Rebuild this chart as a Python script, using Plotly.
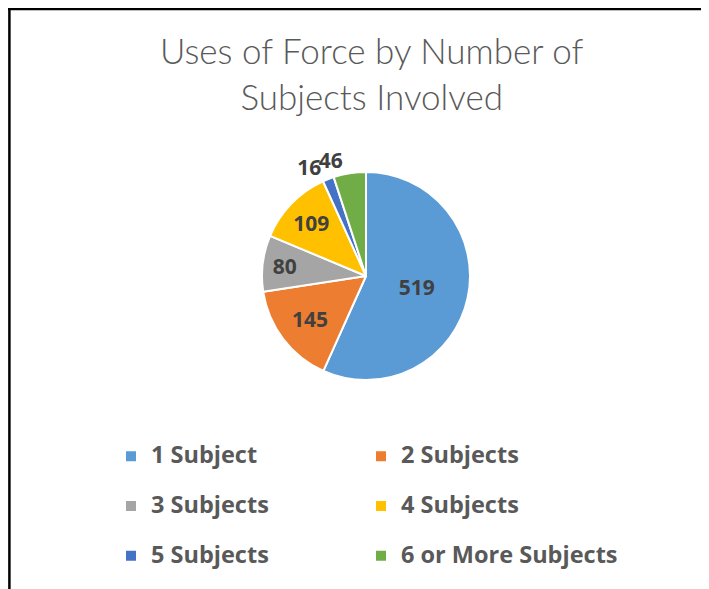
import plotly.graph_objects as go

categories = ["1 Subject", "2 Subjects", "3 Subjects", "4 Subjects", "5 Subjects", "6 or More Subjects"]
values = [519, 145, 80, 109, 16, 46]
colors = ["#5B9BD5", "#ED7D31", "#A5A5A5", "#FFC000", "#4472C4", "#70AD47"]
title_text = "Uses of Force by Number of<br>Subjects Involved"

# page offset (the html body has an 8px margin)
OFF = 8
FW, FH = 701, 581
MR = 11
GW, GH = FW - MR, FH


def px(x):
    return (x - OFF) / GW


def py(y):
    return 1 - (y - OFF) / GH


# pie geometry in page pixels
CX, CY, R = 366, 276, 104
pie_domain = dict(x=[px(CX - R), px(CX + R)], y=[py(CY + R), py(CY - R)])

# legend labels: visible text in a span, plus an empty second line for row spacing
legend_labels = ["<span style='font-size:23.5px'>" + c + "</span><br> " for c in categories]

text_font = dict(family="Open Sans", size=21, color="#404040", weight="bold")

# main pie: all slice labels except the last outside one
pos_main = ["inside", "inside", "inside", "inside", "outside", "none"]
# overlay pie (transparent) carrying the other outside label so the two
# outside labels are placed independently
pos_overlay = ["none", "none", "none", "none", "none", "outside"]

fig = go.Figure()
fig.add_trace(
    go.Pie(
        labels=legend_labels,
        values=values,
        sort=False,
        direction="clockwise",
        rotation=0,
        marker=dict(colors=colors, line=dict(color="white", width=2)),
        textinfo="value",
        textposition=pos_main,
        insidetextorientation="horizontal",
        textfont=text_font,
        outsidetextfont=text_font,
        domain=pie_domain,
        hovertemplate="%{value}<extra></extra>",
    )
)
fig.add_trace(
    go.Pie(
        labels=legend_labels,
        values=values,
        sort=False,
        direction="clockwise",
        rotation=0,
        marker=dict(colors=["rgba(0,0,0,0)"] * len(values), line=dict(width=0)),
        textinfo="value",
        textposition=pos_overlay,
        textfont=text_font,
        outsidetextfont=text_font,
        domain=pie_domain,
        showlegend=False,
        hoverinfo="skip",
    )
)

fig.update_layout(
    width=FW,
    height=FH,
    margin=dict(l=0, r=MR, t=0, b=0, autoexpand=False),
    paper_bgcolor="white",
    plot_bgcolor="white",
    uniformtext=dict(mode="show", minsize=21),
    title=dict(
        text=title_text,
        x=px(366),
        xanchor="center",
        y=1 - 56 / FH,
        yanchor="top",
        font=dict(family="Lato", size=35, color="#595959", weight=300),
    ),
    showlegend=True,
    legend=dict(
        orientation="h",
        x=px(126),
        xanchor="left",
        y=py(438),
        yanchor="top",
        entrywidth=220,
        entrywidthmode="pixels",
        indentation=-15,
        valign="top",
        font=dict(family="Open Sans", size=18, color="#595959", weight="bold"),
        bgcolor="rgba(0,0,0,0)",
    ),
    shapes=[
        dict(type="line", xref="paper", yref="paper", x0=1.4 / GW, x1=1.4 / GW, y0=-0.05, y1=1,
             line=dict(color="black", width=2.5)),
        dict(type="line", xref="paper", yref="paper", x0=0, x1=FW / GW, y0=1 - 1.1 / GH, y1=1 - 1.1 / GH,
             line=dict(color="black", width=2.5)),
    ],
)

fig.write_html("out.html")
